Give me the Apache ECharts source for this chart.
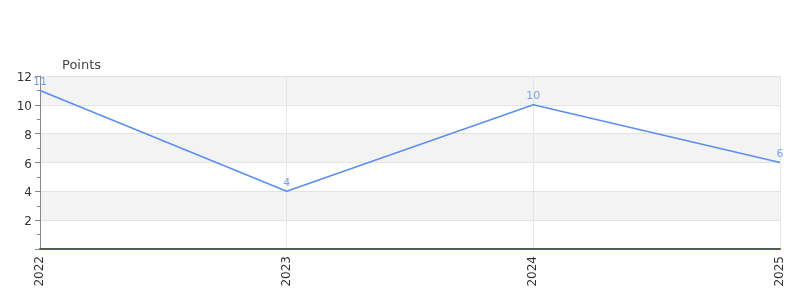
<!DOCTYPE html>
<html>
<head>
<meta charset="utf-8">
<script src="https://cdn.jsdelivr.net/npm/echarts@6/dist/echarts.min.js"></script>
<style>html,body{margin:0;padding:0;background:#fff}#c{width:800px;height:300px}</style>
</head>
<body>
<div id="c"></div>
<script>
const categories = ['2022', '2023', '2024', '2025'];
const points = [11, 4, 10, 6];
const yAxisName = 'Points';

const chart = echarts.init(document.getElementById('c'), null, {renderer: 'canvas'});
chart.setOption({
  animation: false,
  backgroundColor: '#ffffff',
  grid: {left: 40, right: 20, top: 76, bottom: 51, containLabel: false},
  xAxis: {
    type: 'category',
    data: categories,
    boundaryGap: false,
    axisLine: {show: true, lineStyle: {color: '#555', width: 2}},
    axisTick: {show: false},
    axisLabel: {rotate: 90, color: '#333', fontSize: 12, margin: 7, fontFamily: 'DejaVu Sans'},
    splitLine: {show: true, lineStyle: {color: '#e6e6e6'}}
  },
  yAxis: {
    type: 'value',
    min: 0, max: 12, interval: 2,
    name: yAxisName,
    nameLocation: 'end',
    nameGap: 4,
    nameTextStyle: {align: 'left', color: '#444', fontSize: 13, padding: [0, 0, 0, 22], fontFamily: 'DejaVu Sans'},
    axisLine: {show: true, lineStyle: {color: '#888'}},
    axisTick: {show: true, length: 5, lineStyle: {color: '#888'}},
    minorTick: {show: true, splitNumber: 2, length: 3, lineStyle: {color: '#888'}},
    axisLabel: {showMinLabel: false, color: '#333', fontSize: 12, margin: 8, verticalAlign: 'top', lineHeight: 4, fontFamily: 'DejaVu Sans'},
    splitLine: {show: true, lineStyle: {color: '#e3e3e3'}},
    splitArea: {show: true, areaStyle: {color: ['#ffffff', '#f3f3f3']}}
  },
  series: [{
    type: 'line',
    data: points,
    symbol: 'circle',
    symbolSize: 0,
    z: 5,
    lineStyle: {color: '#5b8ff0', width: 1.6},
    itemStyle: {color: '#5b8ff0'},
    label: {show: true, position: 'top', distance: 3, color: '#7aa2f0', fontSize: 11, fontFamily: 'DejaVu Sans'},
    markLine: {
      silent: true,
      symbol: 'none',
      z: 10,
      label: {show: false},
      emphasis: {disabled: true},
      lineStyle: {color: '#e02020', width: 1, type: 'solid'},
      data: [{yAxis: 0}]
    }
  }]
});
</script>
</body>
</html>
